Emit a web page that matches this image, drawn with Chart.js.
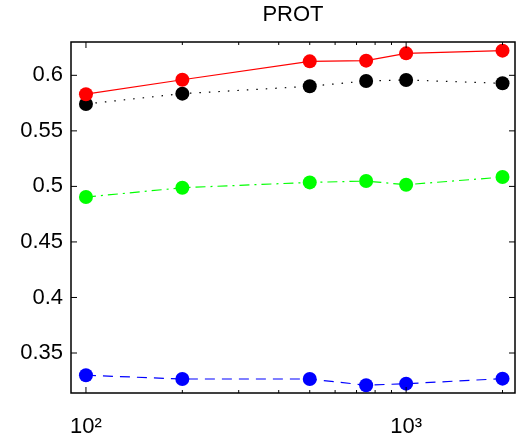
<!DOCTYPE html>
<html>
<head>
<meta charset="utf-8">
<script src="https://cdn.jsdelivr.net/npm/chart.js@4.4.1/dist/chart.umd.min.js"></script>
<style>
  html, body { margin: 0; padding: 0; background: #fff; }
  #wrap { width: 526px; height: 438px; }
</style>
</head>
<body>
<div id="wrap"><canvas id="chart" width="526" height="438"></canvas></div>
<script>
// 数据
const xValues = [100, 200, 500, 750, 1000, 2000];
const redValues = [0.583, 0.596, 0.6126, 0.6132, 0.6198, 0.6222];
const blackValues = [0.5742, 0.5835, 0.5901, 0.5949, 0.5958, 0.5928];
const greenValues = [0.4904, 0.4988, 0.5036, 0.5048, 0.5015, 0.5084];
const blueValues = [0.330, 0.3266, 0.3266, 0.321, 0.3224, 0.3269];
const xTicks = [100, 1000];
const xMinorTicks = [200, 300, 400, 500, 600, 700, 800, 900, 2000];
const yTicks = [0.35, 0.4, 0.45, 0.5, 0.55, 0.6];

function pts(ys) {
    return xValues.map((x, i) => ({ x: x, y: ys[i] }));
}

function series(ys, color, dash) {
    return {
        data: pts(ys),
        borderColor: color,
        backgroundColor: color,
        pointBackgroundColor: color,
        pointBorderColor: color,
        borderWidth: 1.2,
        borderDash: dash,
        pointRadius: 7,
        pointBorderWidth: 0,
        tension: 0,
        fill: false
    };
}

// 边框和向内的刻度线
const boxPlugin = {
    id: 'box',
    afterDatasetsDraw(chart) {
        const ctx = chart.ctx;
        const a = chart.chartArea;
        const xs = chart.scales.x;
        const ys = chart.scales.y;
        ctx.save();
        ctx.strokeStyle = '#000';
        ctx.lineWidth = 1;
        ctx.beginPath();
        xTicks.forEach(v => {
            const p = xs.getPixelForValue(v);
            ctx.moveTo(p, a.bottom); ctx.lineTo(p, a.bottom - 6);
            ctx.moveTo(p, a.top); ctx.lineTo(p, a.top + 6);
        });
        xMinorTicks.forEach(v => {
            const p = xs.getPixelForValue(v);
            ctx.moveTo(p, a.bottom); ctx.lineTo(p, a.bottom - 3);
            ctx.moveTo(p, a.top); ctx.lineTo(p, a.top + 3);
        });
        yTicks.forEach(v => {
            const p = ys.getPixelForValue(v);
            ctx.moveTo(a.left, p); ctx.lineTo(a.left + 6, p);
            ctx.moveTo(a.right, p); ctx.lineTo(a.right - 6, p);
        });
        ctx.stroke();
        ctx.lineWidth = 1.5;
        ctx.strokeRect(a.left, a.top, a.right - a.left, a.bottom - a.top);
        ctx.restore();
    }
};

new Chart(document.getElementById('chart'), {
    type: 'line',
    data: {
        datasets: [
            series(redValues, '#ff0000', []),
            series(blackValues, '#000000', [1.5, 8]),
            series(greenValues, '#00ff00', [10, 5, 2, 5]),
            series(blueValues, '#0000ff', [10, 7])
        ]
    },
    options: {
        responsive: false,
        animation: false,
        layout: { padding: { left: 0, right: 11, top: 0, bottom: 0 } },
        plugins: {
            legend: { display: false },
            tooltip: { enabled: false },
            title: {
                display: true,
                fullSize: false,
                text: 'PROT',
                color: '#000',
                font: { family: 'Liberation Sans, Arial, sans-serif', size: 22, weight: 'normal' },
                padding: { top: 1.5, bottom: 14.1 }
            }
        },
        scales: {
            x: {
                type: 'logarithmic',
                min: 89.8,
                max: 2188,
                grid: { display: false, drawTicks: false },
                border: { display: false },
                afterBuildTicks: scale => { scale.ticks = xTicks.map(v => ({ value: v })); },
                afterFit: scale => { scale.height = 45; },
                ticks: {
                    color: '#000',
                    padding: 21,
                    maxRotation: 0,
                    font: { family: 'Liberation Sans, Arial, sans-serif', size: 22 },
                    callback: v => v === 100 ? '10²' : (v === 1000 ? '10³' : '')
                }
            },
            y: {
                min: 0.314,
                max: 0.63,
                grid: { display: false, drawTicks: false },
                border: { display: false },
                afterBuildTicks: scale => { scale.ticks = yTicks.map(v => ({ value: v })); },
                afterFit: scale => { scale.width = 71; },
                ticks: {
                    color: '#000',
                    padding: 8,
                    font: { family: 'Liberation Sans, Arial, sans-serif', size: 22 },
                    callback: v => String(parseFloat(v.toFixed(2)))
                }
            }
        }
    },
    plugins: [boxPlugin]
});
</script>
</body>
</html>
